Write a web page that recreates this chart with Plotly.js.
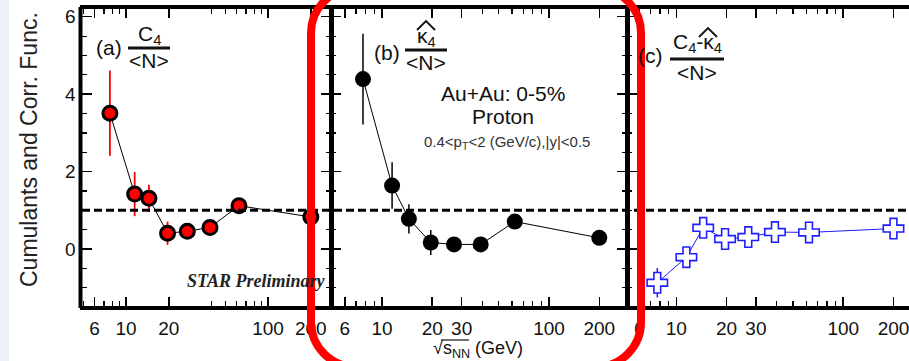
<!DOCTYPE html>
<html>
<head>
<meta charset="utf-8">
<script src="https://cdn.plot.ly/plotly-3.0.1.min.js"></script>
<style>html,body{margin:0;padding:0;background:#fff;}#chart{width:909px;height:361px;}</style>
</head>
<body>
<div id="chart"></div>
<script>
// ---- data ----
const energies = [7.7, 11.5, 14.5, 19.6, 27, 39, 62.4, 200];
const c4 = [3.51, 1.42, 1.31, 0.41, 0.46, 0.56, 1.12, 0.83];
const c4Err = [1.1, 0.57, 0.35, 0.3, 0.1, 0.08, 0.08, 0.05];
const k4 = [4.39, 1.64, 0.78, 0.17, 0.12, 0.12, 0.71, 0.29];
const k4Err = [1.17, 0.6, 0.38, 0.32, 0.1, 0.1, 0.08, 0.05];
const diff = [-0.87, -0.21, 0.55, 0.26, 0.31, 0.44, 0.43, 0.53];
const diffErr = [0.38, 0.12, 0.1, 0.1, 0.08, 0.08, 0.08, 0.05];
const xTickValsA = [6, 10, 20, 100, 200];
const xTickValsBC = [6, 10, 20, 30, 100, 200];
const xMinorVals = [5, 7, 8, 9, 40, 50, 60, 70, 80, 90, 300];
const refLine = 1;

// ---- layout geometry (pixels) ----
const L = 82, T = 9, W = 909 - 82, H = 297;
const px = x => (x - L) / W;
const py = y => (T + H - y) / H;
const P = (x, y) => px(x).toFixed(5) + ',' + py(y).toFixed(5);

function roundRect(x0, y0, x1, y1, r) {
  const k = 0.5523 * r;
  return 'M' + P(x0, y0 + r) +
    ' L' + P(x0, y1 - r) +
    ' C' + P(x0, y1 - r + k) + ' ' + P(x0 + r - k, y1) + ' ' + P(x0 + r, y1) +
    ' L' + P(x1 - r, y1) +
    ' C' + P(x1 - r + k, y1) + ' ' + P(x1, y1 - r + k) + ' ' + P(x1, y1 - r) +
    ' L' + P(x1, y0 + r) +
    ' C' + P(x1, y0 + r - k) + ' ' + P(x1 - r + k, y0) + ' ' + P(x1 - r, y0) +
    ' L' + P(x0 + r, y0) +
    ' C' + P(x0 + r - k, y0) + ' ' + P(x0, y0 + r - k) + ' ' + P(x0, y0 + r) + ' Z';
}

const FONT = 'Liberation Sans, Arial, sans-serif';
const BLUE = '#1e1eff';

const traces = [
  {
    x: energies, y: c4, xaxis: 'x', yaxis: 'y', type: 'scatter', mode: 'lines+markers',
    line: {color: '#000', width: 1},
    marker: {symbol: 'circle', size: 14, color: '#ff0000', line: {color: '#000', width: 3}},
    error_y: {type: 'data', array: c4Err, visible: true, color: '#ff0000', thickness: 1.8, width: 0},
    showlegend: false, hoverinfo: 'skip'
  },
  {
    x: energies, y: k4, xaxis: 'x2', yaxis: 'y2', type: 'scatter', mode: 'lines+markers',
    line: {color: '#000', width: 1},
    marker: {symbol: 'circle', size: 16, color: '#000'},
    error_y: {type: 'data', array: k4Err, visible: true, color: '#000', thickness: 1.5, width: 0},
    showlegend: false, hoverinfo: 'skip'
  },
  {
    x: energies, y: diff, xaxis: 'x3', yaxis: 'y3', type: 'scatter', mode: 'lines+markers',
    line: {color: BLUE, width: 1},
    marker: {symbol: 'cross', size: 17, color: '#fff', line: {color: BLUE, width: 1.6}},
    error_y: {type: 'data', array: diffErr, visible: true, color: BLUE, thickness: 1.5, width: 0},
    showlegend: false, hoverinfo: 'skip'
  }
];

function xAxis(domain, range, tickvals, anchor) {
  return {
    type: 'log', domain: domain, range: range, anchor: anchor,
    tickmode: 'array', tickvals: tickvals, ticktext: tickvals.map(String),
    ticks: 'inside', ticklen: 9, tickwidth: 1.5, tickcolor: '#000',
    minor: {tickmode: 'array', tickvals: xMinorVals, ticks: 'inside', ticklen: 5, tickwidth: 1.2, tickcolor: '#000'},
    showline: true, linecolor: '#000', linewidth: 4, mirror: 'allticks',
    showgrid: false, zeroline: false,
    tickfont: {family: FONT, size: 19, color: '#111'},
    ticklabelstandoff: 2, ticklabeloverflow: 'allow'
  };
}
function yAxis(anchor, labels, mirror) {
  return {
    range: [-1.47, 6.2], anchor: anchor,
    tickmode: 'linear', tick0: 0, dtick: 2,
    ticks: 'inside', ticklen: 10, tickwidth: 1.5, tickcolor: '#000',
    minor: {dtick: 0.5, ticks: 'inside', ticklen: 5, tickwidth: 1.2, tickcolor: '#000'},
    showline: true, linecolor: '#000', linewidth: 2.5, mirror: mirror,
    showgrid: false, zeroline: false, showticklabels: labels,
    tickfont: {family: FONT, size: 19, color: '#111'}
  };
}

const ann = (x, y, text, size, extra) => Object.assign({
  xref: 'paper', yref: 'paper', x: px(x), y: py(y), text: text, showarrow: false,
  xanchor: 'center', yanchor: 'middle',
  font: {family: FONT, size: size, color: '#111'}
}, extra || {});

const layout = {
  width: 909, height: 361,
  margin: {l: L, r: 0, t: T, b: 361 - T - H, pad: 0},
  paper_bgcolor: '#fff', plot_bgcolor: 'rgba(0,0,0,0)',
  showlegend: false,
  xaxis: xAxis([0, px(331)], [0.69, 2.443], xTickValsA, 'y'),
  xaxis2: xAxis([px(331), px(627)], [0.695, 2.467], xTickValsBC, 'y2'),
  xaxis3: xAxis([px(627), 1], [0.705, 2.394], xTickValsBC, 'y3'),
  yaxis: yAxis('x', true, 'allticks'),
  yaxis2: yAxis('x2', false, 'allticks'),
  yaxis3: yAxis('x3', false, false),
  shapes: [
    {type: 'rect', xref: 'paper', yref: 'paper', x0: px(0), x1: px(9), y0: py(361), y1: py(0),
     fillcolor: '#eef1f6', line: {width: 0}, layer: 'below'},
    // thicker outer left frame of panel (a)
    {type: 'line', xref: 'paper', yref: 'paper', x0: px(80.5), x1: px(80.5), y0: py(7), y1: py(308),
     line: {color: '#000', width: 4}},
    {type: 'line', xref: 'paper', yref: 'y', x0: 0, x1: 1, y0: refLine, y1: refLine,
     line: {color: '#000', width: 3, dash: '8px,4px'}, layer: 'above'},
    // fraction bars
    {type: 'line', xref: 'paper', yref: 'paper', x0: px(128), x1: px(170), y0: py(48), y1: py(48), line: {color: '#111', width: 3}},
    {type: 'line', xref: 'paper', yref: 'paper', x0: px(405), x1: px(447), y0: py(50), y1: py(50), line: {color: '#111', width: 3}},
    {type: 'line', xref: 'paper', yref: 'paper', x0: px(670), x1: px(724), y0: py(59), y1: py(59), line: {color: '#111', width: 3}},
    // hats over kappa
    {type: 'path', xref: 'paper', yref: 'paper', path: 'M' + P(417, 30) + ' L' + P(426, 21) + ' L' + P(435, 30), line: {color: '#111', width: 1.8}},
    {type: 'path', xref: 'paper', yref: 'paper', path: 'M' + P(699, 37) + ' L' + P(708, 28) + ' L' + P(717, 37), line: {color: '#111', width: 1.8}},
    // overline of the square root in the x title
    {type: 'line', xref: 'paper', yref: 'paper', x0: px(441), x1: px(469), y0: py(340), y1: py(340), line: {color: '#111', width: 1.2}},
    // red highlight
    {type: 'path', xref: 'paper', yref: 'paper', path: roundRect(311, -12, 641, 367, 45),
     line: {color: '#ff0000', width: 8}, fillcolor: 'rgba(0,0,0,0)', layer: 'above'}
  ],
  annotations: [
    ann(29, 150, 'Cumulants and Corr. Func.', 23, {textangle: -90, font: {family: FONT, size: 23, color: '#222'}}),
    ann(478, 349, '√s<sub>NN</sub> (GeV)', 18),
    ann(109, 48, '(a)', 21),
    ann(149, 35, 'C<sub>4</sub>', 21),
    ann(149, 61, '&lt;N&gt;', 21),
    ann(387, 52, '(b)', 21),
    ann(426, 37, 'κ<sub>4</sub>', 21),
    ann(426, 63, '&lt;N&gt;', 21),
    ann(650, 56, '(c)', 21),
    ann(697, 43, 'C<sub>4</sub>-κ<sub>4</sub>', 21),
    ann(697, 72, '&lt;N&gt;', 21),
    ann(503, 93, 'Au+Au: 0-5%', 21),
    ann(503, 116, 'Proton', 21),
    ann(507, 143, '0.4&lt;p<sub>T</sub>&lt;2 (GeV/c),|y|&lt;0.5', 15, {font: {family: FONT, size: 15, color: '#333'}}),
    ann(185, 281, '<b><i>STAR Preliminary</i></b>', 18, {xanchor: 'left', font: {family: 'Liberation Serif, Times New Roman, serif', size: 18, color: '#222'}})
  ]
};

Plotly.newPlot('chart', traces, layout, {staticPlot: true, displayModeBar: false});
</script>
</body>
</html>
